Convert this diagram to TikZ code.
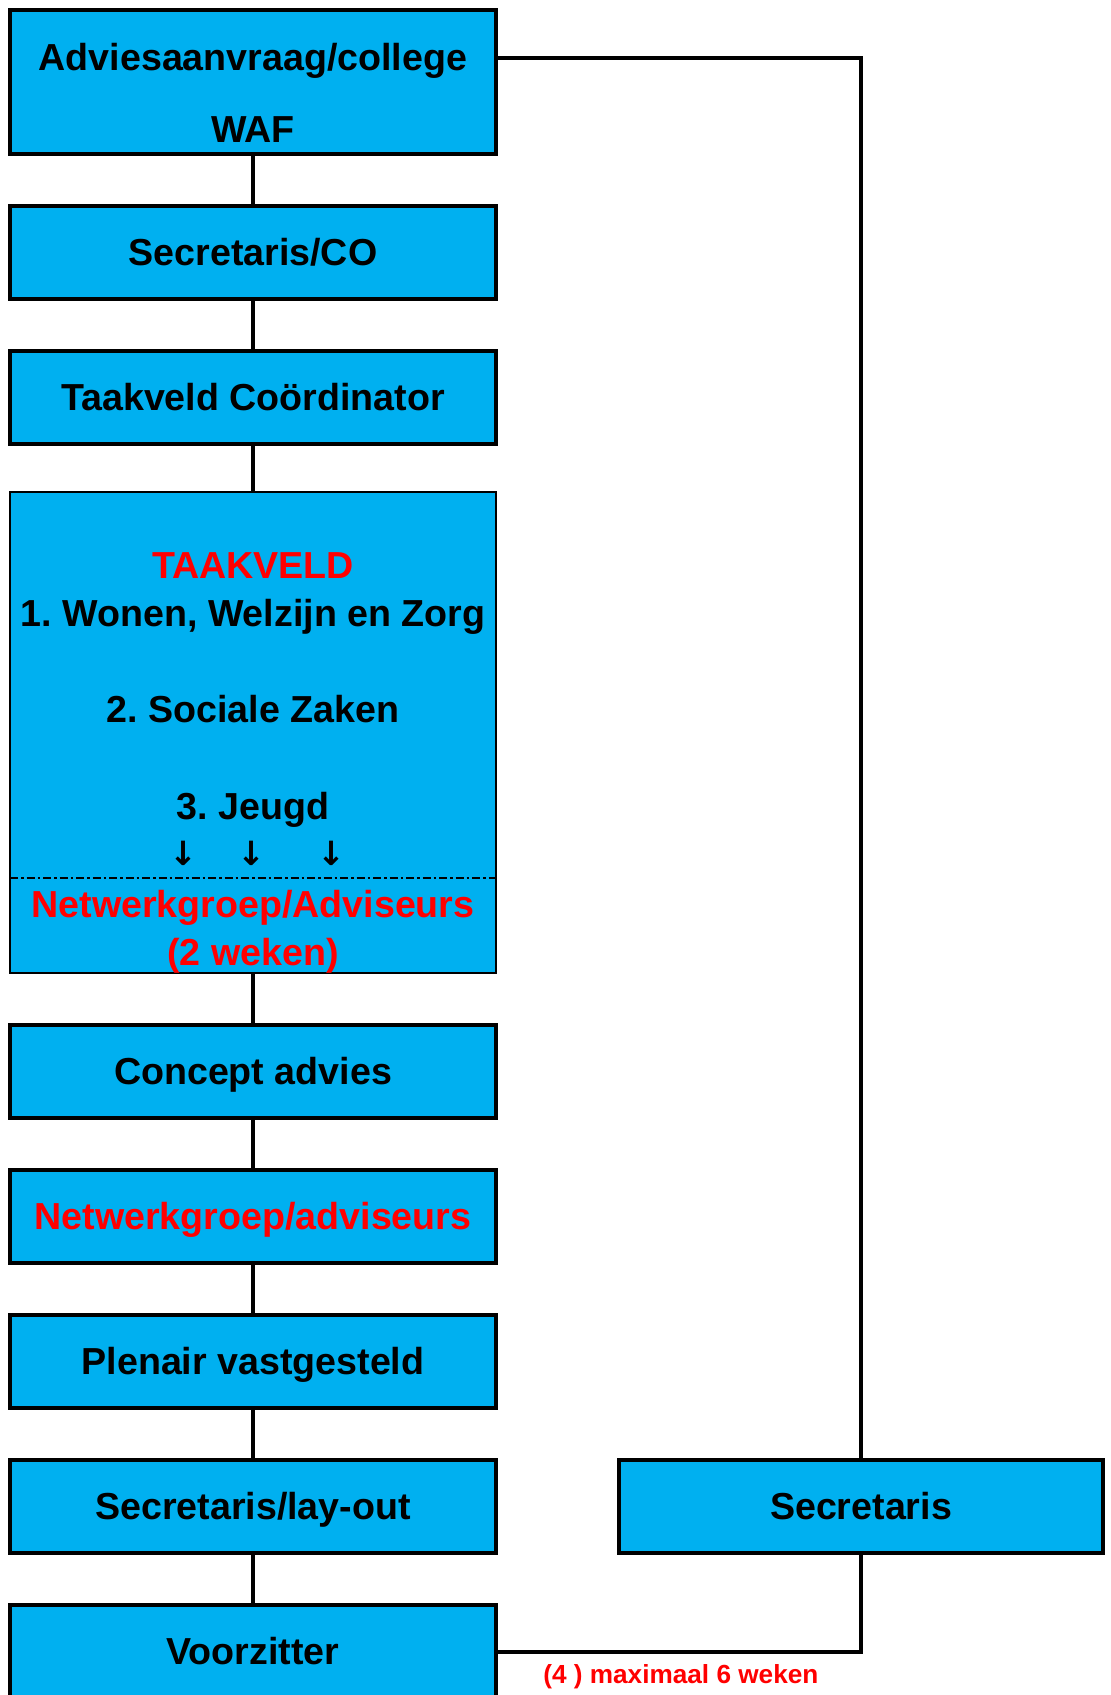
\documentclass[tikz,border=0pt]{standalone}
\usepackage{fontspec}
\setmainfont{Liberation Sans}
\newfontfamily\arrowfont{DejaVu Sans}
\usetikzlibrary{positioning}
\definecolor{stageblue}{HTML}{00B0F0}
\definecolor{alertred}{HTML}{FF0000}
\frenchspacing
\tikzset{
  node distance = 1.04cm,
  stage/.style   = {draw, fill=stageblue, line width=0.08cm, minimum width=9.72cm,
                    minimum height=1.86cm, inner sep=0pt, outer sep=0pt,
                    font=\bfseries\fontsize{21.4}{26}\selectfont,
                    text height=15.3pt, text depth=0pt},
  field/.style   = {stage, line width=0.04cm, minimum height=9.62cm},
  link/.style    = {draw, line width=0.08cm},
  caption/.style = {font=\bfseries\fontsize{21.4}{26}\selectfont, inner sep=0pt, anchor=base},
  alert/.style   = {text=alertred},
  tick/.style    = {font=\arrowfont\bfseries\fontsize{19}{22}\selectfont, inner sep=0pt},
  cut/.style     = {line width=0.026cm, dash pattern=on 0.16cm off 0.06cm on 0.05cm off 0.06cm},
  term/.style    = {font=\bfseries\fontsize{14.9}{18}\selectfont, text=alertred,
                    inner sep=0pt, anchor=base west}
}

\begin{document}
\begin{tikzpicture}
  \useasboundingbox (0,0) rectangle (22.2,-33.9);
  \node[stage, minimum height=2.88cm, anchor=north west] (adv) at (0.2,-0.2) {};
  \node[caption] (advtop) at ([yshift=-1.22cm]adv.north) {Adviesaanvraag/college};
  \node[caption] (advwaf) at ([yshift=-2.66cm]adv.north) {WAF};
  \node[stage] (sec) [below=of adv] {Secretaris/CO}
    edge [link] (adv);
  \node[stage] (taak) [below=of sec] {Taakveld Coördinator}
    edge [link] (sec);
  \node[field] (veld) [below=0.96cm of taak] {}
    edge [link] (taak);
  % taakvelden
  \node[caption, alert] (veldkop) at ([yshift=-1.72cm]veld.north) {TAAKVELD};
  \node[caption] (veld1) at ([yshift=-2.68cm]veld.north) {1. Wonen, Welzijn en Zorg};
  \node[caption] (veld2) at ([yshift=-4.60cm]veld.north) {2. Sociale Zaken};
  \node[caption] (veld3) at ([yshift=-6.54cm]veld.north) {3. Jeugd};
  \foreach \x/\n in {-1.40/a, -0.04/b, 1.56/c}
    \node[tick] (pijl\n) at ([xshift=\x cm, yshift=-7.22cm]veld.north) {↓};
  \coordinate (cutw) at ([yshift=-7.72cm]veld.north west);
  \coordinate (cute) at ([yshift=-7.72cm]veld.north east);
  \draw[cut] (cutw) -- (cute);
  \node[caption, alert] (netwa) at ([yshift=-8.50cm]veld.north) {Netwerkgroep/Adviseurs};
  \node[caption, alert] (netwb) at ([yshift=-9.46cm]veld.north) {(2 weken)};
  \node[stage] (con) [below=of veld] {Concept advies}
    edge [link] (veld);
  \node[stage, alert] (netw) [below=of con] {Netwerkgroep/adviseurs}
    edge [link] (con);
  \node[stage] (plen) [below=of netw] {Plenair vastgesteld}
    edge [link] (netw);
  \node[stage] (lay) [below=of plen] {Secretaris/lay-out}
    edge [link] (plen);
  \node[stage] (voor) [below=of lay] {Voorzitter}
    edge [link] (lay);
  \node[stage, minimum width=9.68cm] (secr) [right=2.46cm of lay] {Secretaris};
  \draw[link] ([yshift=0.48cm]adv.east) -| (secr.north);
  \draw[link] (voor.east) -| (secr.south);
  \node[term] (termijn) at ([xshift=0.94cm, yshift=-0.64cm]voor.east) {(4 ) maximaal 6 weken};
\end{tikzpicture}
\end{document}
